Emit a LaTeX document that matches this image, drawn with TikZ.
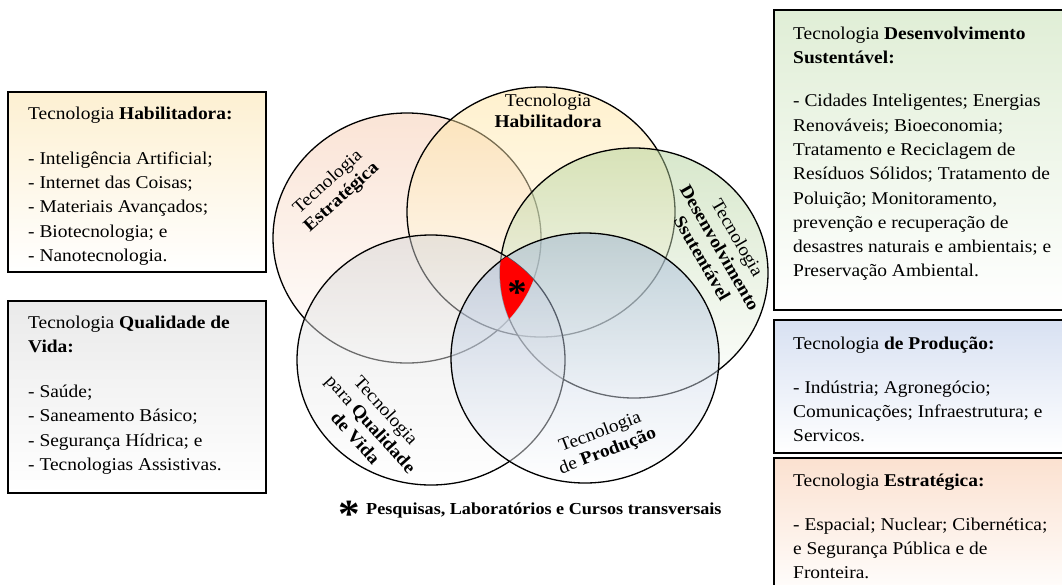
\documentclass[tikz,border=0pt]{standalone}
\usepackage{fontspec}
\setmainfont{Liberation Serif}[FakeStretch=1.08]
\usetikzlibrary{shadings}
\definecolor{estrC}{RGB}{246,198,168}
\definecolor{habC}{RGB}{255,226,150}
\definecolor{desC}{RGB}{172,206,146}
\definecolor{qualC}{RGB}{210,210,210}
\definecolor{prodC}{RGB}{150,174,210}
\definecolor{boxHab}{RGB}{253,240,210}
\definecolor{boxQual}{RGB}{234,234,234}
\definecolor{boxDes}{RGB}{224,238,214}
\definecolor{boxProd}{RGB}{216,225,242}
\definecolor{boxEst}{RGB}{251,225,208}
\tikzset{
  infobox/.style={draw=black, line width=1.4pt},
  boxtext/.style={anchor=north west, inner sep=0pt, align=left, font=\fontsize{18}{24.3}\selectfont},
  circlabel/.style={align=center, inner sep=0pt, font=\fontsize{18}{20.5}\selectfont},
  vennedge/.style={draw=black, line width=1.3pt},
  vennfill/.style={bottom color=white, fill opacity=0.47},
  ell/.style={x radius=134pt, y radius=125pt}
}
\begin{document}
\begin{tikzpicture}[x=1pt,y=-1pt]
\useasboundingbox (0,0) rectangle (1062,584);
\fill[white] (0,0) rectangle (1062,584);

% ---------- left boxes ----------
\shade[top color=boxHab, bottom color=white] (8,92) rectangle (266,272);
\draw[infobox] (8,92) rectangle (266,272);
\node[boxtext] (habtext) at (28,106.6) {Tecnologia \textbf{Habilitadora:}\\[20.7pt]
- Inteligência Artificial;\\
- Internet das Coisas;\\
- Materiais Avançados;\\
- Biotecnologia; e\\
- Nanotecnologia.};

\shade[top color=boxQual, bottom color=white] (8,301) rectangle (266,493);
\draw[infobox] (8,301) rectangle (266,493);
\node[boxtext] (qualtext) at (28,315.6) {Tecnologia \textbf{Qualidade de}\\
\textbf{Vida:}\\[20.7pt]
- Saúde;\\
- Saneamento Básico;\\
- Segurança Hídrica; e\\
- Tecnologias Assistivas.};

% ---------- right boxes ----------
\shade[top color=boxDes, bottom color=white] (774,10) rectangle (1062,310);
\draw[infobox] (1063,10) -- (774,10) -- (774,310) -- (1063,310);
\node[boxtext] (destext) at (793,26.6) {Tecnologia \textbf{Desenvolvimento}\\
\textbf{Sustentável:}\\[19pt]
- Cidades Inteligentes; Energias\\
Renováveis; Bioeconomia;\\
Tratamento e Reciclagem de\\
Resíduos Sólidos; Tratamento de\\
Poluição; Monitoramento,\\
prevenção e recuperação de\\
desastres naturais e ambientais; e\\
Preservação Ambiental.};

\shade[top color=boxProd, bottom color=white] (774,320) rectangle (1062,453);
\draw[infobox] (1063,320) -- (774,320) -- (774,453) -- (1063,453);
\node[boxtext] (prodtext) at (793,336.6) {Tecnologia \textbf{de Produção:}\\[19.5pt]
- Indústria; Agronegócio;\\
Comunicações; Infraestrutura; e\\
Servicos.};

\shade[top color=boxEst, bottom color=white] (774,458) rectangle (1062,600);
\draw[infobox] (1063,458) -- (774,458) -- (774,600);
\node[boxtext] (esttext) at (793,473.6) {Tecnologia \textbf{Estratégica:}\\[19.5pt]
- Espacial; Nuclear; Cibernética;\\
e Segurança Pública e de\\
Fronteira.};

% ---------- Venn ellipses ----------
\shade[vennfill, top color=estrC] (407,238) ellipse[ell];
\draw[vennedge] (407,238) ellipse[ell];
\shade[vennfill, top color=habC] (541,212) ellipse[ell];
\draw[vennedge] (541,212) ellipse[ell];
\shade[vennfill, top color=desC] (634,273) ellipse[ell];
\draw[vennedge] (634,273) ellipse[ell];
\shade[vennfill, top color=qualC] (431,360) ellipse[ell];
\draw[vennedge] (431,360) ellipse[ell];
\shade[vennfill, top color=prodC] (585,358) ellipse[ell];
\draw[vennedge] (585,358) ellipse[ell];

% common intersection
\begin{scope}
\clip (407,238) ellipse[ell];
\clip (541,212) ellipse[ell];
\clip (634,273) ellipse[ell];
\clip (585,358) ellipse[ell];
\fill[red] (431,360) ellipse[ell];
\end{scope}
\node[inner sep=0pt, font=\fontsize{36}{36}\selectfont\bfseries] (redstar) at (517,293) {*};

% ---------- circle labels ----------
\node[circlabel] (habl) at (548,111) {Tecnologia\\\textbf{Habilitadora}};
\node[circlabel, rotate=42] (estl) at (335,190) {Tecnologia\\\textbf{Estratégica}};
\node[circlabel, rotate=-60] (desl) at (720,248) {Tecnologia\\\textbf{Desenvolvimento}\\\textbf{Ssutentável}};
\node[circlabel, rotate=-48] (quall) at (371,424) {Tecnologia\\para \textbf{Qualidade}\\\textbf{de Vida}};
\node[circlabel, rotate=21] (prodl) at (604,442) {Tecnologia\\de \textbf{Produção}};

% ---------- caption ----------
\node[inner sep=0pt, font=\fontsize{40}{40}\selectfont\bfseries] (capstar) at (349,514) {*};
\node[anchor=base west, inner sep=0pt, font=\fontsize{16.8}{18}\selectfont\bfseries] (caption) at (366,514) {Pesquisas, Laboratórios e Cursos transversais};
\end{tikzpicture}
\end{document}
